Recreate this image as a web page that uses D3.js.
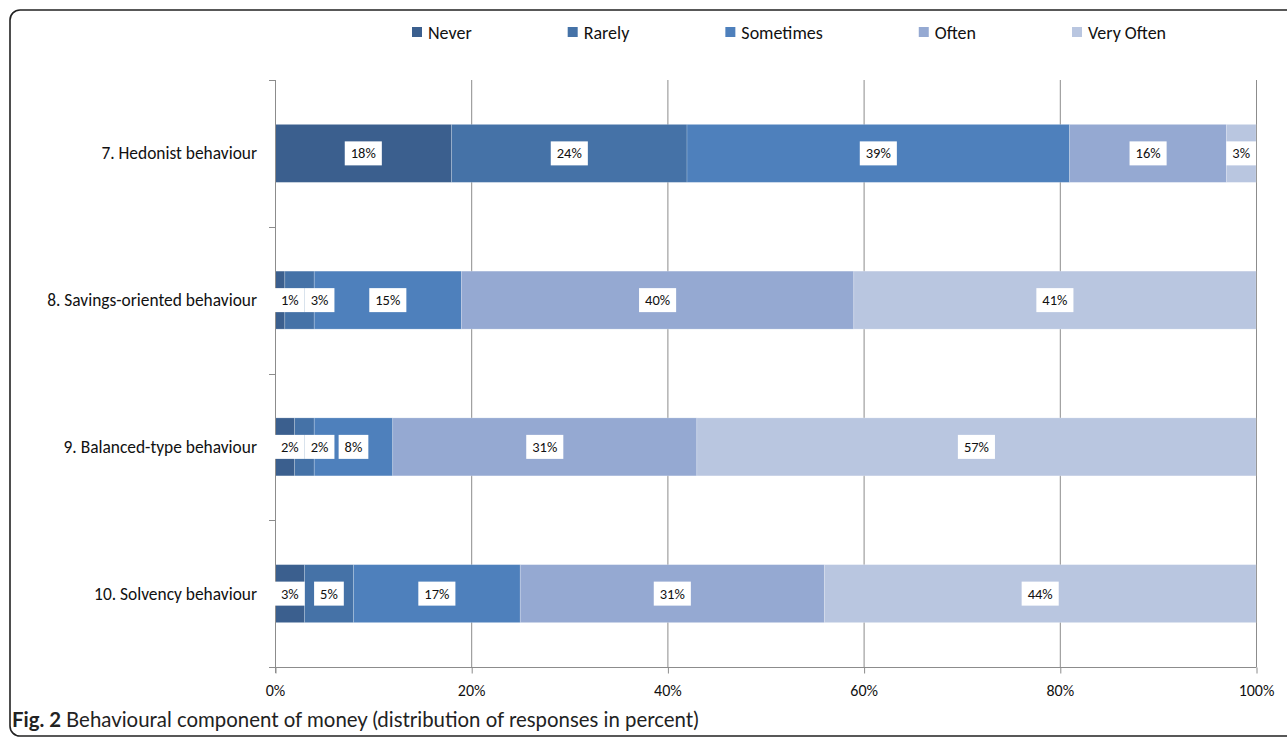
<!DOCTYPE html>
<html>
<head>
<meta charset="utf-8">
<script src="https://cdn.jsdelivr.net/npm/d3@7"></script>
<style>
  body { margin: 0; background: #fff; }
  svg { display: block; font-family: Carlito, Lato, "Open Sans", sans-serif; }
</style>
</head>
<body>
<svg width="1287" height="739"></svg>
<script>
// chart values
var categories = ["7. Hedonist behaviour", "8. Savings-oriented behaviour", "9. Balanced-type behaviour", "10. Solvency behaviour"];
var seriesNames = ["Never", "Rarely", "Sometimes", "Often", "Very Often"];
var never     = [18, 1, 2, 3];
var rarely    = [24, 3, 2, 5];
var sometimes = [39, 15, 8, 17];
var often     = [16, 40, 31, 31];
var veryOften = [3, 41, 57, 44];
var xTicks = [0, 20, 40, 60, 80, 100];
var colors = ["#3b5f8e", "#4572a7", "#4e80bc", "#95a9d2", "#b9c6e0"];
var caption = "Behavioural component of money (distribution of responses in percent)";

var series = [never, rarely, sometimes, often, veryOften];

var svg = d3.select("svg");

// frame round the figure
svg.append("rect")
    .attr("x", 10).attr("y", 10)
    .attr("width", 1320).attr("height", 726)
    .attr("rx", 10)
    .attr("fill", "none")
    .attr("stroke", "#222")
    .attr("stroke-width", 1.6);

var x = d3.scaleLinear().domain([0, 100]).range([275, 1256]);
var y = d3.scaleBand().domain(categories).range([80, 667])
    .paddingInner(0.605).paddingOuter(0.3025);

// gridlines
svg.append("g").selectAll("line")
    .data(xTicks.slice(1))
    .enter().append("line")
    .attr("x1", d => x(d) + 0.5).attr("x2", d => x(d) + 0.5)
    .attr("y1", 80).attr("y2", 667)
    .attr("stroke", "#8c8c8c");

// stacked bars
var rows = categories.map(function (c, i) {
    var acc = 0;
    return series.map(function (s, j) {
        var seg = { cat: c, k: j, v: s[i], x0: acc, x1: acc + s[i] };
        acc += s[i];
        return seg;
    });
});

var bars = svg.append("g");
rows.forEach(function (row) {
    bars.selectAll(null)
        .data(row)
        .enter().append("rect")
        .attr("x", d => x(d.x0))
        .attr("width", d => x(d.x1) - x(d.x0))
        .attr("y", d => y(d.cat))
        .attr("height", y.bandwidth())
        .attr("fill", d => colors[d.k])
        .attr("stroke", "rgba(255,255,255,0.25)")
        .attr("stroke-width", 0.8);
});

// axes
var xAxis = d3.axisBottom(x).tickValues(xTicks).tickFormat(d => d + "%").tickSize(6).tickSizeOuter(0);
var gX = svg.append("g").attr("transform", "translate(0,667.5)").call(xAxis);
gX.select(".domain").attr("stroke", "#8c8c8c").attr("d", "M269,0H" + (x(100) + 0.5));
gX.selectAll(".tick line").attr("stroke", "#8c8c8c").attr("transform", "translate(0.5,0)");
gX.selectAll(".tick text").attr("y", 17).attr("font-size", 16).attr("fill", "#111")
    .attr("font-family", "Carlito, Lato, sans-serif");

// y axis line and tick marks at band boundaries
var yEdges = d3.range(categories.length + 1).map(i => 80 + i * y.step());
svg.append("line")
    .attr("x1", 275.5).attr("x2", 275.5).attr("y1", 80).attr("y2", 673)
    .attr("stroke", "#8c8c8c");
svg.append("g").selectAll("line")
    .data(yEdges)
    .enter().append("line")
    .attr("x1", 269).attr("x2", 275)
    .attr("y1", d => Math.round(d) + 0.5).attr("y2", d => Math.round(d) + 0.5)
    .attr("stroke", "#8c8c8c");

// category labels
svg.append("g").selectAll("text")
    .data(categories)
    .enter().append("text")
    .attr("x", 257)
    .attr("y", d => y(d) + y.bandwidth() / 2)
    .attr("dy", "0.35em")
    .attr("text-anchor", "end")
    .attr("font-size", 17.4)
    .attr("fill", "#111")
    .text(d => d);

// data labels in white boxes, nudged so they stay inside the plot and do not overlap
var labels = svg.append("g");
rows.forEach(function (row) {
    var prevRight = x(0);
    row.forEach(function (d) {
        var g = labels.append("g");
        var t = g.append("text")
            .attr("font-size", 14.5)
            .attr("fill", "#111")
            .attr("text-anchor", "middle")
            .attr("dy", "0.35em")
            .text(d.v + "%");
        var w = t.node().getComputedTextLength() + 12;
        var cx = (x(d.x0) + x(d.x1)) / 2;
        var left = cx - w / 2;
        if (left < x(0)) left = x(0);
        if (left + w > x(100)) left = x(100) - w;
        if (left < prevRight) left = prevRight;
        prevRight = left + w;
        var cy = y(d.cat) + y.bandwidth() / 2;
        g.insert("rect", "text")
            .attr("x", left).attr("y", cy - 12)
            .attr("width", w).attr("height", 24)
            .attr("fill", "#fff");
        t.attr("x", left + w / 2).attr("y", cy);
    });
});

// legend
var legend = svg.append("g");
var lx = 412;
seriesNames.forEach(function (name, i) {
    legend.append("rect")
        .attr("x", lx).attr("y", 27)
        .attr("width", 10).attr("height", 10)
        .attr("fill", colors[i]);
    var t = legend.append("text")
        .attr("x", lx + 16).attr("y", 32.5)
        .attr("dy", "0.35em")
        .attr("font-size", 18)
        .attr("fill", "#111")
        .text(name);
    lx += 16 + t.node().getComputedTextLength() + 96;
});

// caption
var cap = svg.append("text")
    .attr("x", 12).attr("y", 727)
    .attr("font-family", "Lato, sans-serif")
    .attr("font-size", 20.4)
    .attr("fill", "#222");
cap.append("tspan").attr("font-weight", "bold").text("Fig. 2");
cap.append("tspan").attr("dx", 5).text(caption);
</script>
</body>
</html>
